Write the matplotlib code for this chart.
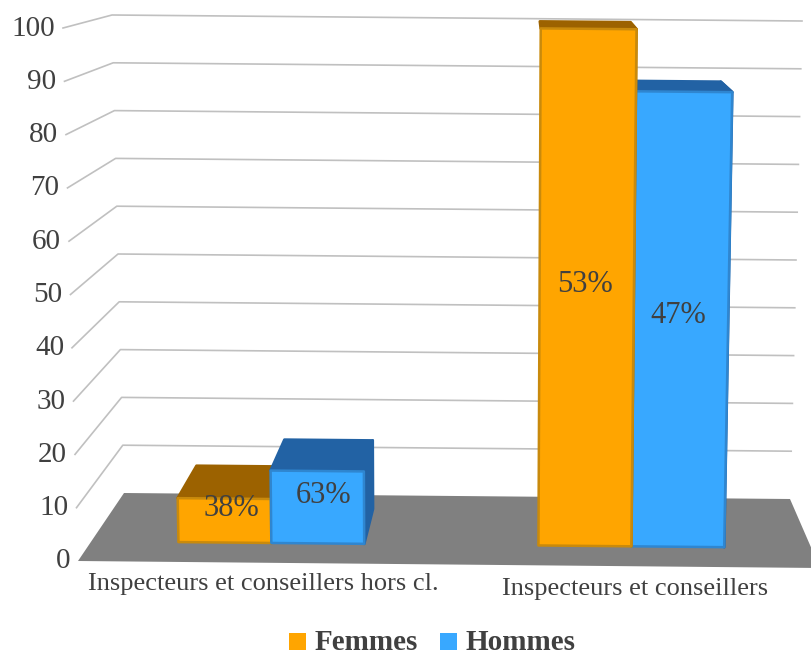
import matplotlib
matplotlib.use('Agg')
import matplotlib.pyplot as plt
from matplotlib.patches import Polygon, Rectangle

# data
categories = ['Inspecteurs et conseillers hors cl.', 'Inspecteurs et conseillers']
femmes = [8.5, 100]
hommes = [14, 88]
femmes_labels = ['38%', '53%']
hommes_labels = ['63%', '47%']
y_ticks = [0, 10, 20, 30, 40, 50, 60, 70, 80, 90, 100]

plt.rcParams['font.family'] = ['Liberation Serif', 'DejaVu Serif']
TEXT = '#404040'
GRID = '#c0c0c0'
FLOOR = '#808080'
ORANGE = {'front': '#ffa500', 'edge': '#c98a0c', 'top': '#9c6200', 'side': '#b87a00'}
BLUE = {'front': '#38a8ff', 'edge': '#2f86d0', 'top': '#2262a4', 'side': '#2262a4'}

# floor and wall corners on the canvas, the axes use image pixels
FL = (78, 561)
BL = (124, 493)
FR = (820, 568)
BR = (790, 499)
cat_pos = [0.25, 0.75]
bar_w = 0.129
d_front = 0.29
d_back = 0.80


def project(u, d, v):
    # u left to right, d front to back, v the value axis
    left_x = FL[0] + (BL[0] - FL[0]) * d
    right_x = FR[0] + (BR[0] - FR[0]) * d
    left_y = FL[1] + (BL[1] - FL[1]) * d
    right_y = FR[1] + (BR[1] - FR[1]) * d
    x = left_x + (right_x - left_x) * u
    y = left_y + (right_y - left_y) * u
    scale = 5.33 - 0.55 * d
    x += (u - 0.5) * 2 * v * (0.15 - 0.03 * d) * (0.65 + 0.35 * abs(2 * u - 1) ** 2)
    return x, y - scale * v


fig = plt.figure(figsize=(8.11, 6.55), dpi=100)
ax = fig.add_axes([0, 0, 1, 1])
ax.set_xlim(0, 811)
ax.set_ylim(655, 0)
ax.axis('off')

# walls
for v in y_ticks[1:]:
    pts = [project(0, 0, v), project(0, 1, v), project(1, 1, v)]
    ax.plot([p[0] for p in pts], [p[1] for p in pts], color=GRID, lw=1.2, zorder=1)

# floor
floor = [project(0, 0, 0), project(0, 1, 0), project(1, 1, 0), project(1, 0, 0)]
ax.add_patch(Polygon(floor, closed=True, color=FLOOR, lw=0, zorder=2))


def draw_bar(u0, u1, v, col, z):
    top = [project(u0, d_front, v), project(u0, d_back, v), project(u1, d_back, v), project(u1, d_front, v)]
    side = [project(u1, d_front, 0), project(u1, d_front, v), project(u1, d_back, v), project(u1, d_back, 0)]
    front = [project(u0, d_front, 0), project(u0, d_front, v), project(u1, d_front, v), project(u1, d_front, 0)]
    ax.add_patch(Polygon(side, closed=True, fc=col['side'], ec=col['side'], lw=2, joinstyle='round', zorder=z))
    ax.add_patch(Polygon(top, closed=True, fc=col['top'], ec=col['top'], lw=2, joinstyle='round', zorder=z))
    ax.add_patch(Polygon(front, closed=True, fc=col['front'], ec=col['edge'], lw=1.8, joinstyle='round', zorder=z + 0.1))


# left group: blue in front of orange, right group: orange in front of blue
draw_bar(cat_pos[0] - bar_w, cat_pos[0], femmes[0], ORANGE, 3)
draw_bar(cat_pos[0], cat_pos[0] + bar_w, hommes[0], BLUE, 4)
draw_bar(cat_pos[1], cat_pos[1] + bar_w, hommes[1], BLUE, 5)
draw_bar(cat_pos[1] - bar_w, cat_pos[1], femmes[1], ORANGE, 6)

# value labels
for i, c in enumerate(cat_pos):
    x, y = project(c - bar_w / 2, 0.5, femmes[i] * 0.49)
    ax.text(x, y + 1, femmes_labels[i], ha='center', va='center', fontsize=22, color=TEXT, zorder=10)
    x, y = project(c + bar_w / 2, 0.5, hommes[i] * 0.49)
    ax.text(x + 1, y + 1, hommes_labels[i], ha='center', va='center', fontsize=22, color=TEXT, zorder=10)

# axis labels
for v in y_ticks:
    x, y = project(0, 0, v)
    ax.text(x - 8, y + 0.5, str(v), ha='right', va='center', fontsize=21, color=TEXT)

ax.text(263, 584, categories[0], ha='center', va='center', fontsize=19, color=TEXT)
ax.text(635, 589, categories[1], ha='center', va='center', fontsize=19, color=TEXT)

# legend
ax.add_patch(Rectangle((289, 633), 17, 17, fc=ORANGE['front'], ec='none'))
ax.text(315, 642, 'Femmes', ha='left', va='center', fontsize=21, fontweight='bold', color=TEXT)
ax.add_patch(Rectangle((440, 633), 17, 17, fc=BLUE['front'], ec='none'))
ax.text(465, 642, 'Hommes', ha='left', va='center', fontsize=21, fontweight='bold', color=TEXT)

fig.savefig('out.png', dpi=100)
